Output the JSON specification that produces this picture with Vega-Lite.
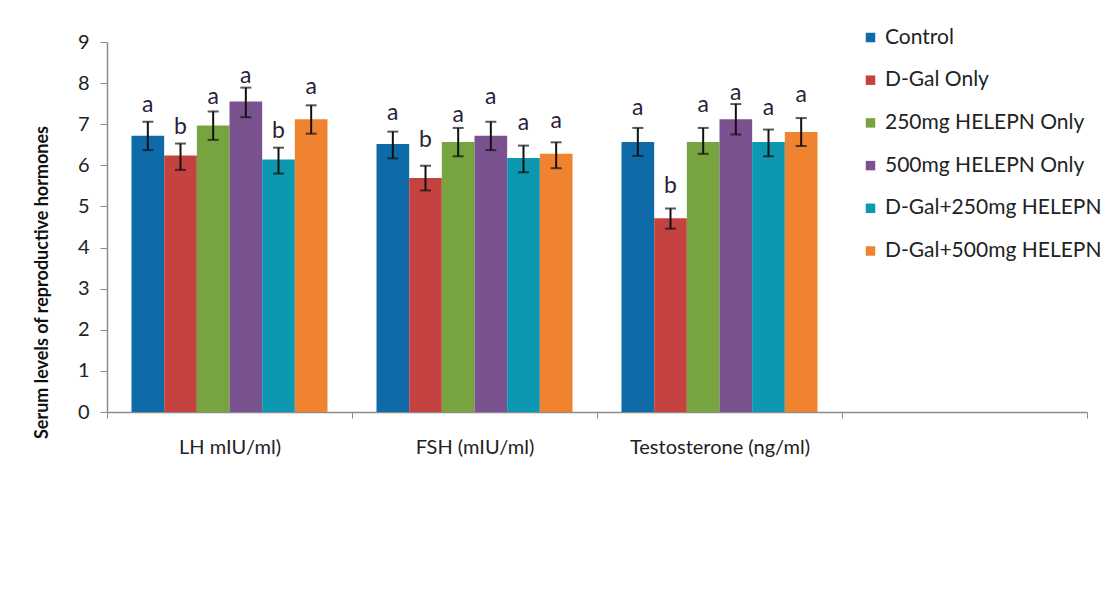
{
  "$schema": "https://vega.github.io/schema/vega-lite/v6.json",
  "autosize": {"type": "none"},
  "width": 980,
  "height": 370,
  "padding": {"left": 107, "top": 42, "right": 21, "bottom": 178},
  "background": "white",
  "config": {
    "view": {"stroke": null},
    "font": "Lato",
    "axis": {"grid": false, "domainColor": "#8c8c8c", "tickColor": "#8c8c8c", "labelColor": "#222222", "labelFont": "Lato"}
  },
  "data": {
    "values": [
      {"hormone": "LH mIU/ml)", "group": "Control", "mean": 6.72, "lo": 6.37, "hi": 7.06, "sig": "a", "ly": 7.47},
      {"hormone": "LH mIU/ml)", "group": "D-Gal Only", "mean": 6.24, "lo": 5.89, "hi": 6.53, "sig": "b", "ly": 6.93},
      {"hormone": "LH mIU/ml)", "group": "250mg HELEPN Only", "mean": 6.97, "lo": 6.62, "hi": 7.31, "sig": "a", "ly": 7.66},
      {"hormone": "LH mIU/ml)", "group": "500mg HELEPN Only", "mean": 7.55, "lo": 7.17, "hi": 7.89, "sig": "a", "ly": 8.18},
      {"hormone": "LH mIU/ml)", "group": "D-Gal+250mg HELEPN", "mean": 6.14, "lo": 5.8, "hi": 6.43, "sig": "b", "ly": 6.84},
      {"hormone": "LH mIU/ml)", "group": "D-Gal+500mg HELEPN", "mean": 7.12, "lo": 6.77, "hi": 7.46, "sig": "a", "ly": 7.91},
      {"hormone": "FSH (mIU/ml)", "group": "Control", "mean": 6.52, "lo": 6.17, "hi": 6.82, "sig": "a", "ly": 7.27},
      {"hormone": "FSH (mIU/ml)", "group": "D-Gal Only", "mean": 5.69, "lo": 5.39, "hi": 5.99, "sig": "b", "ly": 6.62},
      {"hormone": "FSH (mIU/ml)", "group": "250mg HELEPN Only", "mean": 6.57, "lo": 6.22, "hi": 6.91, "sig": "a", "ly": 7.23},
      {"hormone": "FSH (mIU/ml)", "group": "500mg HELEPN Only", "mean": 6.72, "lo": 6.37, "hi": 7.06, "sig": "a", "ly": 7.66},
      {"hormone": "FSH (mIU/ml)", "group": "D-Gal+250mg HELEPN", "mean": 6.18, "lo": 5.83, "hi": 6.48, "sig": "a", "ly": 7.03},
      {"hormone": "FSH (mIU/ml)", "group": "D-Gal+500mg HELEPN", "mean": 6.28, "lo": 5.93, "hi": 6.56, "sig": "a", "ly": 7.08},
      {"hormone": "Testosterone (ng/ml)", "group": "Control", "mean": 6.57, "lo": 6.23, "hi": 6.91, "sig": "a", "ly": 7.4},
      {"hormone": "Testosterone (ng/ml)", "group": "D-Gal Only", "mean": 4.71, "lo": 4.46, "hi": 4.95, "sig": "b", "ly": 5.5},
      {"hormone": "Testosterone (ng/ml)", "group": "250mg HELEPN Only", "mean": 6.57, "lo": 6.28, "hi": 6.91, "sig": "a", "ly": 7.47},
      {"hormone": "Testosterone (ng/ml)", "group": "500mg HELEPN Only", "mean": 7.12, "lo": 6.75, "hi": 7.49, "sig": "a", "ly": 7.77},
      {"hormone": "Testosterone (ng/ml)", "group": "D-Gal+250mg HELEPN", "mean": 6.57, "lo": 6.22, "hi": 6.87, "sig": "a", "ly": 7.4},
      {"hormone": "Testosterone (ng/ml)", "group": "D-Gal+500mg HELEPN", "mean": 6.81, "lo": 6.47, "hi": 7.15, "sig": "a", "ly": 7.71}
    ]
  },
  "encoding": {
    "x": {
      "field": "hormone", "type": "nominal",
      "scale": {"domain": ["LH mIU/ml)", "FSH (mIU/ml)", "Testosterone (ng/ml)", " "], "paddingInner": 0, "paddingOuter": 0},
      "axis": {"title": null, "labelAngle": 0, "labelFontSize": 20, "labelLimit": 400, "labelPadding": 19, "tickSize": 6, "tickBand": "extent", "domainWidth": 1.5}
    },
    "xOffset": {
      "field": "group", "type": "nominal",
      "scale": {"domain": ["Control", "D-Gal Only", "250mg HELEPN Only", "500mg HELEPN Only", "D-Gal+250mg HELEPN", "D-Gal+500mg HELEPN"], "paddingInner": 0, "paddingOuter": 0.75}
    }
  },
  "layer": [
    {
      "mark": {"type": "bar"},
      "encoding": {
        "y": {
          "field": "mean", "type": "quantitative",
          "scale": {"domain": [0, 9], "nice": false},
          "axis": {"values": [0,1,2,3,4,5,6,7,8,9], "title": "Serum levels of reproductive hormones", "titleFontSize": 18, "titleFontWeight": "bold", "titleColor": "#111111", "titleAngle": -90, "titleX": -65, "titleY": 240, "titleAlign": "center", "titleBaseline": "middle", "labelFontSize": 20, "labelPadding": 11, "tickSize": 7, "domainWidth": 1.5}
        },
        "color": {
          "field": "group", "type": "nominal",
          "scale": {"domain": ["Control", "D-Gal Only", "250mg HELEPN Only", "500mg HELEPN Only", "D-Gal+250mg HELEPN", "D-Gal+500mg HELEPN"], "range": ["#0e6ba8", "#c4423f", "#77a43f", "#7b5290", "#0b98b0", "#f0832f"]},
          "legend": {"title": null, "orient": "none", "legendX": 753, "legendY": -15, "symbolType": "square", "symbolSize": 90, "labelFontSize": 21, "labelLimit": 400, "labelColor": "#222222", "rowPadding": 20.7, "labelOffset": 4, "symbolStrokeWidth": 0}
        }
      }
    },
    {
      "mark": {"type": "rule", "color": "#111111", "strokeWidth": 2},
      "encoding": {"y": {"field": "lo", "type": "quantitative"}, "y2": {"field": "hi"}}
    },
    {
      "mark": {"type": "tick", "color": "#111111", "thickness": 2, "size": 11},
      "encoding": {"y": {"field": "lo", "type": "quantitative"}}
    },
    {
      "mark": {"type": "tick", "color": "#111111", "thickness": 2, "size": 11},
      "encoding": {"y": {"field": "hi", "type": "quantitative"}}
    },
    {
      "mark": {"type": "text", "fontSize": 23, "color": "#2a1f3a", "baseline": "middle", "align": "center"},
      "encoding": {"y": {"field": "ly", "type": "quantitative"}, "text": {"field": "sig"}}
    }
  ]
}
